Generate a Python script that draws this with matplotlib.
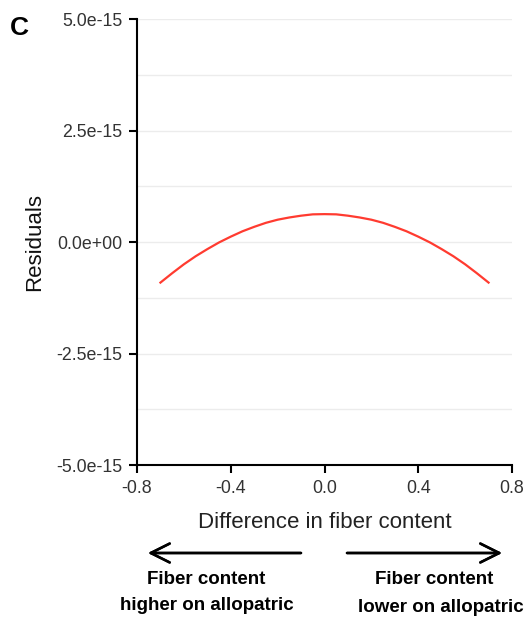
import matplotlib.pyplot as plt
import numpy as np

plt.rcParams['font.family'] = ['Liberation Sans', 'DejaVu Sans']

# fitted residual curve (units of 1e-15)
diff = [-0.70, -0.65, -0.60, -0.55, -0.50, -0.45, -0.40, -0.35, -0.30, -0.25,
        -0.20, -0.15, -0.10, -0.05, 0.00, 0.05, 0.10, 0.15, 0.20, 0.25, 0.30,
        0.35, 0.40, 0.45, 0.50, 0.55, 0.60, 0.65, 0.70]
resid = [-0.91, -0.70, -0.50, -0.32, -0.16, -0.01, 0.12, 0.24, 0.34, 0.43,
         0.50, 0.55, 0.59, 0.62, 0.625, 0.62, 0.59, 0.55, 0.50, 0.43, 0.34,
         0.24, 0.12, -0.01, -0.16, -0.32, -0.50, -0.70, -0.91]
xticks = [-0.8, -0.4, 0.0, 0.4, 0.8]
yticks = [-5e-15, -2.5e-15, 0.0, 2.5e-15, 5e-15]
ytick_labels = ['-5.0e-15', '-2.5e-15', '0.0e+00', '2.5e-15', '5.0e-15']

fig = plt.figure(figsize=(5.26, 6.19), dpi=100)
ax = fig.add_axes([137 / 526, 1 - 465 / 619, 375 / 526, 446 / 619])

ax.plot(diff, np.array(resid) * 1e-15, color='#ff3b30', lw=1.6)

ax.set_xlim(-0.8, 0.8)
ax.set_ylim(-5e-15, 5e-15)
ax.set_xticks(xticks)
ax.set_xticklabels([f'{v:.1f}' for v in xticks])
ax.set_yticks(yticks)
ax.set_yticklabels(ytick_labels)
ax.set_yticks(np.arange(-3.75e-15, 5e-15, 2.5e-15), minor=True)
ax.tick_params(axis='y', which='minor', length=0)

# faint horizontal gridlines only
ax.grid(axis='y', which='both', color='#ececec', lw=1)
ax.set_axisbelow(True)

for s in ['top', 'right']:
    ax.spines[s].set_visible(False)
for s in ['left', 'bottom']:
    ax.spines[s].set_linewidth(1.5)
ax.tick_params(which='major', length=5.5, width=1.5, pad=5, labelsize=12.8,
               labelcolor='#333333')

ax.set_xlabel('Difference in fiber content', fontsize=16, color='#222222')
ax.set_ylabel('Residuals', fontsize=16, color='#111111')
ax.xaxis.set_label_coords((324.5 - 137) / 375, -(522 - 465) / 446)
ax.yaxis.set_label_coords(-(137 - 35) / 375, 0.5)
ax.xaxis.label.set_va('center')
ax.yaxis.label.set_va('center')

fig.text(10 / 526, 1 - 28 / 619, 'C', fontsize=19, fontweight='bold', va='center')

# direction arrows under the x-axis
y_arr = 1 - 553 / 619
for tip, tail in [(148, 301), (502, 347)]:
    fig.add_artist(plt.annotate('', xy=(tip / 526, y_arr), xytext=(tail / 526, y_arr),
                                xycoords='figure fraction',
                                arrowprops=dict(arrowstyle='->', lw=1.8, color='black',
                                                mutation_scale=34,
                                                shrinkA=0, shrinkB=0)))

bold = dict(fontsize=13.5, fontweight='bold', ha='center', va='center')
fig.text(206 / 526, 1 - 580 / 619, 'Fiber content', **bold)
fig.text(207 / 526, 1 - 606 / 619, 'higher on allopatric', **bold)
fig.text(434 / 526, 1 - 580 / 619, 'Fiber content', **bold)
fig.text(441 / 526, 1 - 607 / 619, 'lower on allopatric', **bold)

plt.savefig('out.png', dpi=100)
